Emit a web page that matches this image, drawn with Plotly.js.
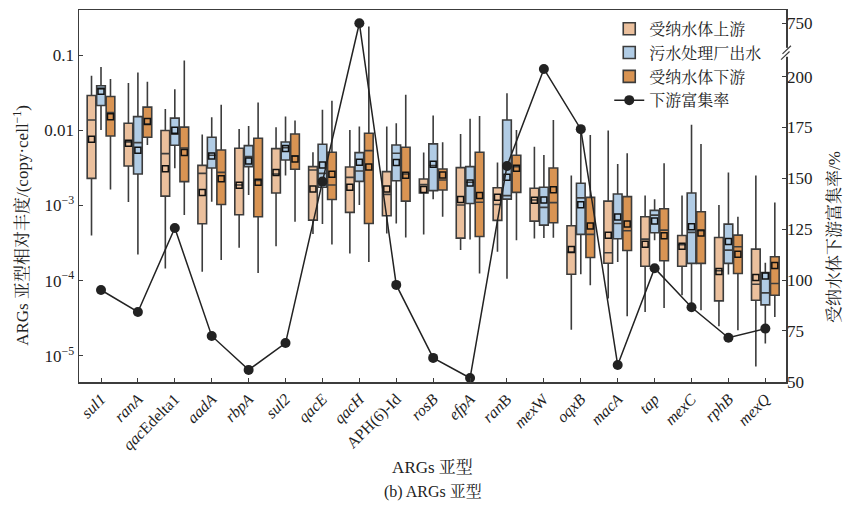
<!DOCTYPE html>
<html>
<head>
<meta charset="utf-8">
<script src="https://cdn.plot.ly/plotly-3.0.1.min.js"></script>
<style>html,body{margin:0;padding:0;background:#fff;}#chart{width:847px;height:506px;}</style>
</head>
<body>
<div id="chart"></div>
<script>
// ---------- data ----------
const categories = ['sul1','ranA','qacEdelta1','aadA','rbpA','sul2','qacE','qacH','APH(6)-Id','rosB','efpA','ranB','mexW','oqxB','macA','tap','mexC','rphB','mexQ'];
const tickLabels = ['<i>sul1</i>','<i>ranA</i>','<i>qac</i>Edelta1','<i>aadA</i>','<i>rbpA</i>','<i>sul2</i>','<i>qacE</i>','<i>qacH</i>','APH(6)-Id','<i>rosB</i>','<i>efpA</i>','<i>ran</i>B','<i>mex</i>W','<i>oqxB</i>','<i>macA</i>','<i>tap</i>','<i>mexC</i>','<i>rphB</i>','<i>mexQ</i>'];

// 受纳水体上游
const upUpper  = [0.053,0.0424,0.0192,0.00875,0.0104,0.011,0.00509,0.0101,0.0112,0.00504,0.00893,0.00371,0.00605,0.00249,0.0099,0.00135,0.00135,0.00101,0.00249];
const upQ3     = [0.029,0.0124,0.0099,0.00341,0.00575,0.0057,0.00328,0.00324,0.00281,0.00225,0.00318,0.00172,0.00169,0.000536,0.00114,0.000706,0.000398,0.000374,0.000262];
const upMedian = [0.0137,0.0070,0.00489,0.00267,0.00187,0.00262,0.00296,0.00236,0.0014,0.00189,0.00101,0.00103,0.00118,0.000239,0.000234,0.000356,0.0003,0.000135,0.0000893];
const upQ1     = [0.00229,0.00334,0.00133,0.00057,0.000751,0.00146,0.000637,0.000807,0.000728,0.00146,0.000367,0.000631,0.000618,0.000121,0.00017,0.000155,0.000155,0.0000536,0.0000547];
const upLower  = [0.000398,0.00111,0.000145,0.000131,0.000273,0.000287,0.000415,0.000229,0.000424,0.000411,0.000254,0.000241,0.000363,0.0000222,0.0000575,0.0000382,0.0000637,0.0000246,0.0000072];
const upMean   = [0.00759,0.00671,0.00308,0.00148,0.00185,0.00273,0.00165,0.00174,0.00165,0.00163,0.0012,0.00128,0.00117,0.000259,0.000402,0.000305,0.000287,0.000132,0.00011];

// 污水处理厂出水
const wwUpper  = [0.0692,0.0587,0.0352,0.0149,0.0114,0.0152,0.0187,0.0112,0.0124,0.0157,0.0142,0.0311,0.00469,0.0101,0.00356,0.00121,0.0118,0.00273,0.000172];
const wwQ3     = [0.039,0.0152,0.0145,0.00807,0.00625,0.00699,0.00651,0.00504,0.00637,0.00658,0.00328,0.0137,0.00174,0.00197,0.00142,0.000858,0.00146,0.000564,0.000128];
const wwMedian = [0.0355,0.00685,0.00885,0.00464,0.00446,0.00587,0.00267,0.00287,0.00494,0.0034,0.00203,0.00135,0.00094,0.00126,0.000575,0.000743,0.000437,0.000254,0.0000685];
const wwQ1     = [0.0213,0.00262,0.00631,0.00315,0.00328,0.00402,0.00174,0.00209,0.00213,0.00157,0.00106,0.00121,0.000547,0.000411,0.00036,0.000432,0.000169,0.000169,0.0000474];
const wwLower  = [0.0101,0.000222,0.00311,0.00112,0.00137,0.00249,0.000564,0.00101,0.000575,0.00121,0.000352,0.000106,0.000367,0.000121,0.000177,0.000345,0.0000494,0.00012,0.0000145];
const wwMean   = [0.0331,0.00541,0.01,0.00455,0.0039,0.0057,0.00345,0.00374,0.00371,0.00352,0.00199,0.00236,0.00118,0.00102,0.000699,0.000618,0.00052,0.000331,0.000115];

// 受纳水体下游
const dnUpper  = [0.0479,0.0441,0.0849,0.0218,0.0234,0.0135,0.0246,0.241,0.0296,0.00692,0.0155,0.0101,0.0137,0.00867,0.00494,0.00363,0.00658,0.000706,0.00109];
const dnQ3     = [0.0281,0.0203,0.011,0.00547,0.00782,0.00893,0.00509,0.00912,0.00593,0.00305,0.00509,0.00464,0.00315,0.00128,0.00131,0.000903,0.000824,0.000402,0.000207];
const dnMedian = [0.0172,0.0121,0.00581,0.00275,0.00215,0.00455,0.00187,0.00536,0.00262,0.00218,0.0011,0.00328,0.00109,0.000411,0.000459,0.000469,0.000459,0.000281,0.0000912];
const dnQ1     = [0.0084,0.00807,0.00207,0.00103,0.000706,0.00302,0.0012,0.000575,0.00114,0.0016,0.000386,0.00149,0.000587,0.000203,0.000251,0.000183,0.000169,0.000124,0.0000637];
const dnLower  = [0.00163,0.00637,0.000743,0.000187,0.000126,0.000605,0.000302,0.000177,0.000374,0.000706,0.000124,0.000345,0.000371,0.0000867,0.0000334,0.0000432,0.0000402,0.0000218,0.0000328];
const dnMean   = [0.0151,0.0131,0.00504,0.00227,0.00203,0.00415,0.00259,0.00324,0.00251,0.00254,0.00135,0.00311,0.00162,0.00053,0.000564,0.000394,0.000428,0.000224,0.000158];

// 下游富集率 (%)
const enrichRate = [95.1,84.3,125.6,72.5,55.8,69.0,148.4,750,97.6,61.7,51.8,156.1,203.8,174.2,58.2,105.8,86.6,71.6,76.1];

// ---------- layout helpers ----------
const OFF = 0.257, BOXW = 0.235;
const LINEC = '#3c3c3c';
const FONT = 'Liberation Serif, "Noto Serif CJK SC", "Noto Sans CJK SC", serif';
const idx = categories.map((c, i) => i);
const xs = d => idx.map(i => i + d);
// broken right axis: values above the break are shifted down next to 200
const BREAK_TOP = 750, BREAK_POS = 226.3;
const mapRate = v => v > 400 ? BREAK_POS + (v - BREAK_TOP) * 0.1 : v;

function boxTrace(name, d, fill, lower, q1, med, q3, upper) {
  return {type:'box', name:name, x:xs(d), q1:q1, median:med, q3:q3, lowerfence:lower, upperfence:upper,
    width:BOXW, fillcolor:fill, line:{color:LINEC, width:1.6}, whiskerwidth:0, boxpoints:false,
    hoverinfo:'y', legendgroup:name};
}
function meanTrace(name, d, vals) {
  return {type:'scatter', mode:'markers', x:xs(d), y:vals, showlegend:false, legendgroup:name,
    marker:{symbol:'square-open', size:6, color:'#111', line:{width:1.5, color:'#111'}}, hoverinfo:'y'};
}

const traces = [
  boxTrace('受纳水体上游', -OFF, '#EBC09D', upLower, upQ1, upMedian, upQ3, upUpper),
  boxTrace('污水处理厂出水', 0, '#B1CCE5', wwLower, wwQ1, wwMedian, wwQ3, wwUpper),
  boxTrace('受纳水体下游', OFF, '#D99453', dnLower, dnQ1, dnMedian, dnQ3, dnUpper),
  meanTrace('受纳水体上游', -OFF, upMean),
  meanTrace('污水处理厂出水', 0, wwMean),
  meanTrace('受纳水体下游', OFF, dnMean),
  {type:'scatter', mode:'lines+markers', name:'下游富集率', x:idx, y:enrichRate.map(mapRate), yaxis:'y2',
   text:enrichRate.map(String), hoverinfo:'text',
   line:{color:'#222', width:1.5}, marker:{symbol:'circle', size:10, color:'#222'}}
];

const yBreak = 212;
const layout = {
  width:847, height:506,
  margin:{l:79, r:61, t:10, b:124},
  paper_bgcolor:'#fff', plot_bgcolor:'#fff',
  font:{family:FONT, size:16, color:'#222'},
  showlegend:true,
  legend:{x:0.75, y:0.995, xanchor:'left', yanchor:'top', bgcolor:'rgba(0,0,0,0)', font:{size:16, family:FONT}, tracegroupgap:0, traceorder:'normal'},
  xaxis:{range:[-0.596, 18.56], tickvals:idx, ticktext:tickLabels, tickangle:-45, ticks:'inside', ticklen:4,
    tickcolor:LINEC, showline:true, linecolor:LINEC, linewidth:1.5, mirror:true, showgrid:false, zeroline:false,
    tickfont:{size:16, family:FONT},
    title:{text:'ARGs 亚型', font:{size:17, family:FONT}, standoff:8}},
  yaxis:{type:'log', range:[-5.35, -0.40], tickvals:[1e-5,1e-4,1e-3,0.01,0.1],
    ticktext:['10<sup>−5</sup>','10<sup>−4</sup>','10<sup>−3</sup>','0.01','0.1'],
    ticks:'inside', ticklen:4, tickcolor:LINEC, showline:true, linecolor:LINEC, linewidth:1.5, mirror:true,
    showgrid:false, zeroline:false, tickfont:{size:17, family:FONT}},
  yaxis2:{overlaying:'y', side:'right', range:[49.85, 232.8],
    tickvals:[50,75,100,125,150,175,200,BREAK_POS], ticktext:['50','75','100','125','150','175','200','750'],
    ticks:'inside', ticklen:4, tickcolor:LINEC, showline:false, showgrid:false, zeroline:false,
    tickfont:{size:17, family:FONT}},
  annotations:[
    {xref:'paper', yref:'paper', x:-0.082, y:0.42, xanchor:'center', yanchor:'middle', textangle:-90, showarrow:false,
     text:'ARGs 亚型相对丰度/(copy·cell<sup>−1</sup>)', font:{size:17, family:FONT}},
    {xref:'paper', yref:'paper', x:1.068, y:0.39, xanchor:'center', yanchor:'middle', textangle:-90, showarrow:false,
     text:'受纳水体下游富集率/%', font:{size:17, family:FONT}},
    {xref:'paper', yref:'paper', x:0.5, y:-0.265, xanchor:'center', yanchor:'top', showarrow:false,
     text:'(b) ARGs 亚型', font:{size:16, family:FONT}}
  ],
  shapes:[
    {type:'line', xref:'paper', yref:'y2', x0:1, x1:1, y0:yBreak-2.2, y1:yBreak+2.2, line:{color:'#fff', width:4}, layer:'above'},
    {type:'line', xref:'paper', yref:'y2', x0:0.993, x1:1.005, y0:yBreak-3.6, y1:yBreak+0.4, line:{color:LINEC, width:1.2}, layer:'above'},
    {type:'line', xref:'paper', yref:'y2', x0:0.995, x1:1.007, y0:yBreak-0.8, y1:yBreak+3.2, line:{color:LINEC, width:1.2}, layer:'above'}
  ]
};

Plotly.newPlot('chart', traces, layout, {staticPlot:true, displayModeBar:false});
</script>
</body>
</html>
